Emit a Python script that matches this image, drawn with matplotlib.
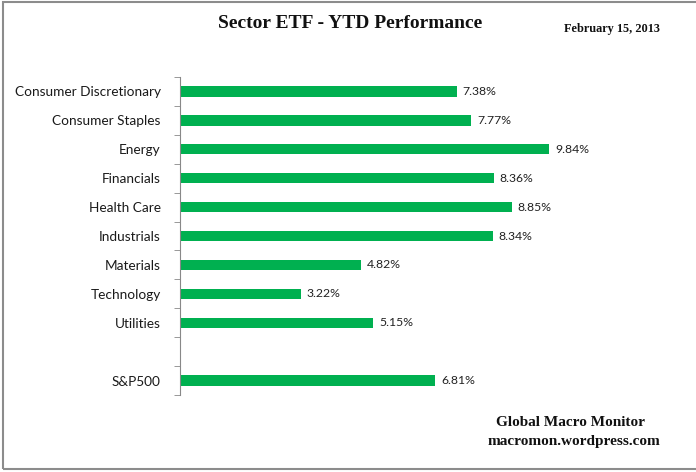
import numpy as np
import matplotlib
matplotlib.use("Agg")
import matplotlib.pyplot as plt
from matplotlib.patches import Rectangle

# data
categories = ["Consumer Discretionary", "Consumer Staples", "Energy", "Financials",
              "Health Care", "Industrials", "Materials", "Technology", "Utilities",
              "", "S&P500"]
values = [7.38, 7.77, 9.84, 8.36, 8.85, 8.34, 4.82, 3.22, 5.15, None, 6.81]

fig = plt.figure(figsize=(6.96, 4.72), dpi=100)
ax = fig.add_axes([180 / 696, 1 - 395 / 472, 450 / 696, 318 / 472])

n = len(categories)
pos = np.arange(n)
for p, v in zip(pos, values):
    if v is None:
        continue
    ax.barh(p, v, height=0.36, color="#00B050", edgecolor="none")
    ax.text(v + 0.16, p, f"{v:.2f}%", va="center", ha="left",
            fontsize=8.8, family="Lato", color="#222222")

ax.set_xlim(0, 12)
ax.set_ylim(n - 0.5, -0.5)
ax.set_yticks(pos)
ax.set_yticklabels(categories, fontsize=9.8, family="Lato", color="#1a1a1a")
ax.set_yticks(np.arange(n + 1) - 0.5, minor=True)
ax.tick_params(axis="y", which="major", length=0, pad=14)
ax.tick_params(axis="y", which="minor", length=4, color="#888888", direction="out")
ax.set_xticks([])
for s in ["top", "right", "bottom"]:
    ax.spines[s].set_visible(False)
ax.spines["left"].set_color("#888888")
ax.spines["left"].set_linewidth(0.8)

fig.text(350 / 696, 1 - 23 / 472, "Sector ETF - YTD Performance", ha="center", va="center",
         fontsize=14, fontweight="bold", family="Liberation Serif", color="#111111")
fig.text(612 / 696, 1 - 29 / 472, "February 15, 2013", ha="center", va="center",
         fontsize=8.8, fontweight="bold", family="Liberation Serif", color="#111111")
fig.text(570 / 696, 1 - 422 / 472, "Global Macro Monitor", ha="center", va="center",
         fontsize=11, fontweight="bold", family="Liberation Serif", color="#111111")
fig.text(574 / 696, 1 - 441 / 472, "macromon.wordpress.com", ha="center", va="center",
         fontsize=11, fontweight="bold", family="Liberation Serif", color="#111111")

# outer frame (right side is cut off)
fig.patches.append(Rectangle((3 / 696, 3 / 472), 1.0, 467 / 472, transform=fig.transFigure,
                             fill=False, edgecolor="#8c8c8c", linewidth=1.5))

fig.savefig("out.png", dpi=100)
